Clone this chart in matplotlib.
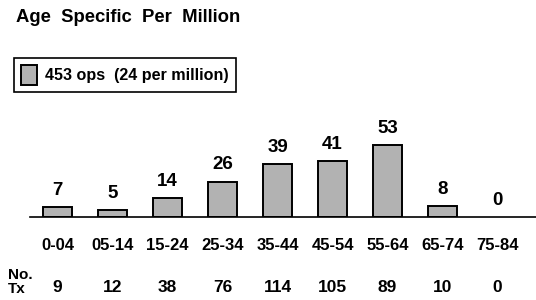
import matplotlib
matplotlib.use("Agg")
import matplotlib.pyplot as plt
from matplotlib.transforms import blended_transform_factory

plt.rcParams['font.family'] = ['Liberation Sans', 'DejaVu Sans']
plt.rcParams['font.weight'] = 'bold'

# data
age_groups = ['0-04', '05-14', '15-24', '25-34', '35-44', '45-54', '55-64', '65-74', '75-84']
per_million = [7, 5, 14, 26, 39, 41, 53, 8, 0]
n_tx = [9, 12, 38, 76, 114, 105, 89, 10, 0]
series_label = '453 ops  (24 per million)'

W, H = 536, 300
fig = plt.figure(figsize=(W / 100, H / 100), dpi=100)

# axes placed in pixel terms: baseline at y=217, left at x=30
ax_left, ax_bottom_px, ax_top_px = 30, 217, 100
ax = fig.add_axes([ax_left / W, 1 - ax_bottom_px / H,
                   (W - ax_left) / W, (ax_bottom_px - ax_top_px) / H])

x = list(range(len(age_groups)))
bars = ax.bar(x, per_million, width=0.52, color='#b2b2b2', edgecolor='black',
              linewidth=1.4, label=series_label)
# a zero-height bar shows nothing in the reference
for b, v in zip(bars, per_million):
    if v == 0:
        b.set_linewidth(0)

ax.set_xlim(-0.5, 8.7)
ax.set_ylim(0, (ax_bottom_px - ax_top_px) / 1.36)

for s in ['top', 'right', 'left']:
    ax.spines[s].set_visible(False)
ax.spines['bottom'].set_linewidth(1.2)
ax.set_yticks([])
ax.set_xticks([])

# value labels above bars
for xi, v in zip(x, per_million):
    ax.annotate(str(v), (xi, v), xytext=(0, 12), textcoords='offset points',
                ha='center', va='center', fontsize=13.5, fontweight='bold',
                annotation_clip=False)

# age labels and counts below axis
trans = blended_transform_factory(ax.transData, fig.transFigure)
for xi, lab, n in zip(x, age_groups, n_tx):
    fig.text(xi, 1 - 245 / H, lab, transform=trans, ha='center', va='center',
             fontsize=12, fontweight='bold')
    fig.text(xi, 1 - 287 / H, str(n), transform=trans, ha='center', va='center',
             fontsize=12.5, fontweight='bold')

fig.text(8 / W, 1 - 282 / H, 'No.\nTx', ha='left', va='center',
         fontsize=11, fontweight='bold', linespacing=0.95)

fig.text(16 / W, 1 - 17 / H, 'Age  Specific  Per  Million', ha='left', va='center',
         fontsize=13.3, fontweight='bold')

leg = ax.legend(loc='upper left', bbox_to_anchor=(14 / W, 1 - 58 / H),
                bbox_transform=fig.transFigure, borderaxespad=0,
                prop={'size': 11.6, 'weight': 'bold'}, fancybox=False,
                framealpha=1, edgecolor='black', handlelength=1.0,
                handleheight=1.5, handletextpad=0.5, borderpad=0.45)
leg.get_frame().set_linewidth(1.2)

fig.savefig('out.png', dpi=100)
